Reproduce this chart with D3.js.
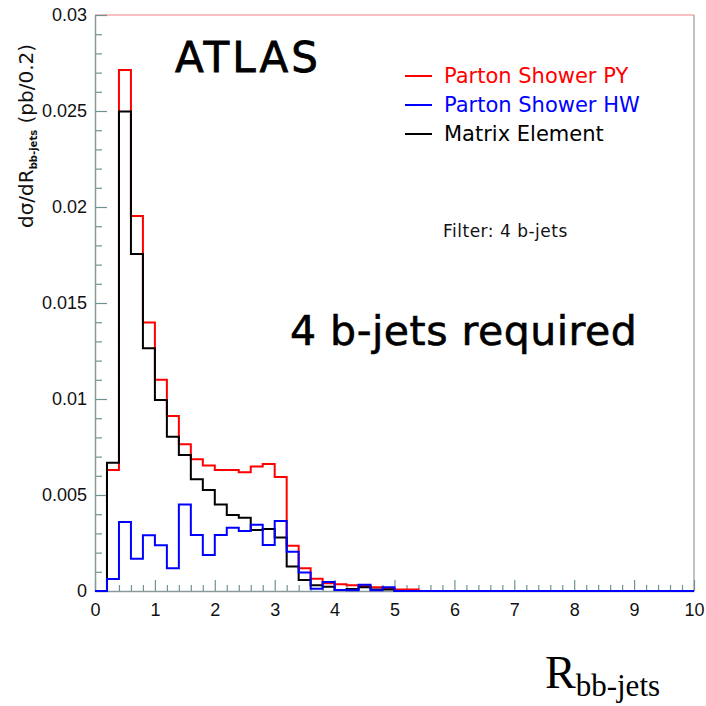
<!DOCTYPE html>
<html>
<head>
<meta charset="utf-8">
<script src="https://cdn.jsdelivr.net/npm/d3@7"></script>
<style>
  body { margin: 0; background: #fff; }
  svg { display: block; }
</style>
</head>
<body>
<svg id="chart"></svg>
<script>
// histogram contents, bins of 0.2 in R from 0 to 10
const binWidth = 0.2;
const partonPY = [
  0, 0.0063, 0.02714, 0.01953, 0.01398, 0.0110, 0.00911, 0.00764, 0.00686, 0.00653,
  0.0063, 0.0063, 0.00618, 0.00648, 0.00661, 0.00594, 0.00236, 0.00118, 0.00064, 0.0004,
  0.00035, 0.0003, 0.00026, 0.0002, 0.00012, 0.00008, 0.00008, 0, 0, 0,
  0, 0, 0, 0, 0, 0, 0, 0, 0, 0,
  0, 0, 0, 0, 0, 0, 0, 0, 0, 0
];
const matrixElement = [
  0, 0.00668, 0.02498, 0.01755, 0.01264, 0.00995, 0.00804, 0.00708, 0.00582, 0.00526,
  0.00451, 0.00396, 0.00382, 0.00318, 0.00323, 0.00278, 0.00127, 0.00057, 0.0003, 0.00022,
  0.00005, 0.0001, 0.0002, 0.00008, 0.00008, 0, 0, 0, 0, 0,
  0, 0, 0, 0, 0, 0, 0, 0, 0, 0,
  0, 0, 0, 0, 0, 0, 0, 0, 0, 0
];
const partonHW = [
  0, 0.00062, 0.0036, 0.00168, 0.0029, 0.00238, 0.00118, 0.00451, 0.00292, 0.00188,
  0.00292, 0.0033, 0.00312, 0.00345, 0.0024, 0.00365, 0.00205, 0.00097, 0.00012, 0.00047,
  0.00005, 0.00004, 0.00033, 0.00004, 0.00019, 0, 0, 0, 0, 0,
  0, 0, 0, 0, 0, 0, 0, 0, 0, 0,
  0, 0, 0, 0, 0, 0, 0, 0, 0, 0
];

const xTicks = [0, 1, 2, 3, 4, 5, 6, 7, 8, 9, 10];
const yTicks = [0, 0.005, 0.01, 0.015, 0.02, 0.025, 0.03];
const yTickLabels = ["0", "0.005", "0.01", "0.015", "0.02", "0.025", "0.03"];

const series = [
  { label: "Parton Shower PY", values: partonPY, color: "#ff0000" },
  { label: "Matrix Element", values: matrixElement, color: "#000000" },
  { label: "Parton Shower HW", values: partonHW, color: "#0000ff" }
];
const legendOrder = ["Parton Shower PY", "Parton Shower HW", "Matrix Element"];

const W = 706, H = 706;
const margin = { top: 15, right: 12, bottom: 115, left: 95 };
const width = W - margin.left - margin.right;
const height = H - margin.top - margin.bottom;

const svg = d3.select("#chart").attr("width", W).attr("height", H);
const g = svg.append("g").attr("transform", `translate(${margin.left},${margin.top})`);

const x = d3.scaleLinear().domain([0, 10]).range([0, width]);
const y = d3.scaleLinear().domain([0, 0.03]).range([height, 0]);

const axisColor = "#6f9393";

// frame: red top, grey right
g.append("line").attr("x1", 0).attr("x2", width).attr("y1", 0).attr("y2", 0)
  .attr("stroke", "#f08080").attr("stroke-width", 1);
g.append("line").attr("x1", width).attr("x2", width).attr("y1", 0).attr("y2", height)
  .attr("stroke", "#999").attr("stroke-width", 1.2);

// minor ticks
const xMinor = d3.range(0, 10.001, 0.2).filter((v) => Math.abs(v - Math.round(v)) > 1e-6);
const yMinor = d3.range(0, 0.0301, 0.001).filter((v) => Math.abs(v / 0.005 - Math.round(v / 0.005)) > 1e-6);

g.append("g").attr("transform", `translate(0,${height})`)
  .call(d3.axisBottom(x).tickValues(xMinor).tickSize(-6).tickFormat(""))
  .call((a) => a.select(".domain").remove());
g.append("g")
  .call(d3.axisLeft(y).tickValues(yMinor).tickSize(-7).tickFormat(""))
  .call((a) => a.select(".domain").remove());

const xAxis = g.append("g").attr("transform", `translate(0,${height})`)
  .call(d3.axisBottom(x).tickValues(xTicks).tickSize(-11).tickPadding(12).tickSizeOuter(0).tickFormat(d3.format("d")));
const yAxis = g.append("g")
  .call(d3.axisLeft(y).tickValues(yTicks).tickSize(-12).tickPadding(8).tickSizeOuter(0)
    .tickFormat((d, i) => yTickLabels[i]));

g.selectAll(".tick line").attr("stroke", axisColor).attr("stroke-width", 1.2);
[xAxis, yAxis].forEach((a) => {
  a.select(".domain").attr("stroke", "#8a9a9a").attr("stroke-width", 1.5);
  a.selectAll("text").attr("fill", "#111").style("font-family", "Liberation Sans, Arial, sans-serif").style("font-size", "18px");
});

// histograms as step lines
const step = d3.line()
  .x((d) => x(d[0]))
  .y((d) => y(d[1]))
  .curve(d3.curveStepAfter);

series.forEach((s) => {
  const pts = s.values.map((v, i) => [i * binWidth, v]);
  pts.push([s.values.length * binWidth, s.values[s.values.length - 1]]);
  g.append("path")
    .datum(pts)
    .attr("d", step)
    .attr("fill", "none")
    .attr("stroke", s.color)
    .attr("stroke-width", 2);
});

// legend
const legend = svg.append("g").attr("transform", "translate(405,76)");
legendOrder.forEach((name, i) => {
  const s = series.find((d) => d.label === name);
  const row = legend.append("g").attr("transform", `translate(0,${i * 29})`);
  row.append("line").attr("x1", 0).attr("x2", 27).attr("y1", 0).attr("y2", 0)
    .attr("stroke", s.color).attr("stroke-width", 2);
  row.append("text").attr("x", 39).attr("y", 7)
    .attr("fill", s.color)
    .style("font-family", "DejaVu Sans, sans-serif")
    .style("font-size", "21px")
    .text(s.label);
});

svg.append("text").attr("x", 443).attr("y", 237)
  .style("font-family", "DejaVu Sans, sans-serif").style("font-size", "17px")
  .attr("fill", "#111").attr("letter-spacing", "0.5px")
  .text("Filter: 4 b-jets");

// the big labels get a thin stroke for a heavier, marker-like look
svg.append("text").attr("x", 175).attr("y", 72)
  .style("font-family", "'Comic Sans MS', 'DejaVu Sans', sans-serif")
  .style("font-size", "42px").attr("letter-spacing", "3px")
  .attr("stroke", "#000").attr("stroke-width", 0.8)
  .text("ATLAS");

svg.append("text").attr("x", 290).attr("y", 345)
  .style("font-family", "'Comic Sans MS', 'DejaVu Sans', sans-serif")
  .style("font-size", "41px").attr("letter-spacing", "0.5px")
  .attr("stroke", "#000").attr("stroke-width", 0.6)
  .text("4 b-jets required");

// y axis title
const yTitle = svg.append("text")
  .attr("transform", "translate(33,228) rotate(-90)")
  .style("font-family", "DejaVu Sans, sans-serif").style("font-size", "20px")
  .attr("fill", "#111");
yTitle.append("tspan").text("dσ/dR");
yTitle.append("tspan").attr("dy", 4).style("font-size", "10px").style("font-weight", "bold").text("bb-jets");
yTitle.append("tspan").attr("dy", -4).text(" (pb/0.2)");

// x axis title
const xTitle = svg.append("text").attr("x", 545).attr("y", 688)
  .style("font-family", "Liberation Serif, Times New Roman, serif")
  .attr("fill", "#000");
xTitle.append("tspan").style("font-size", "46px").text("R");
xTitle.append("tspan").attr("dy", 8).style("font-size", "31px").text("bb-jets");
</script>
</body>
</html>
